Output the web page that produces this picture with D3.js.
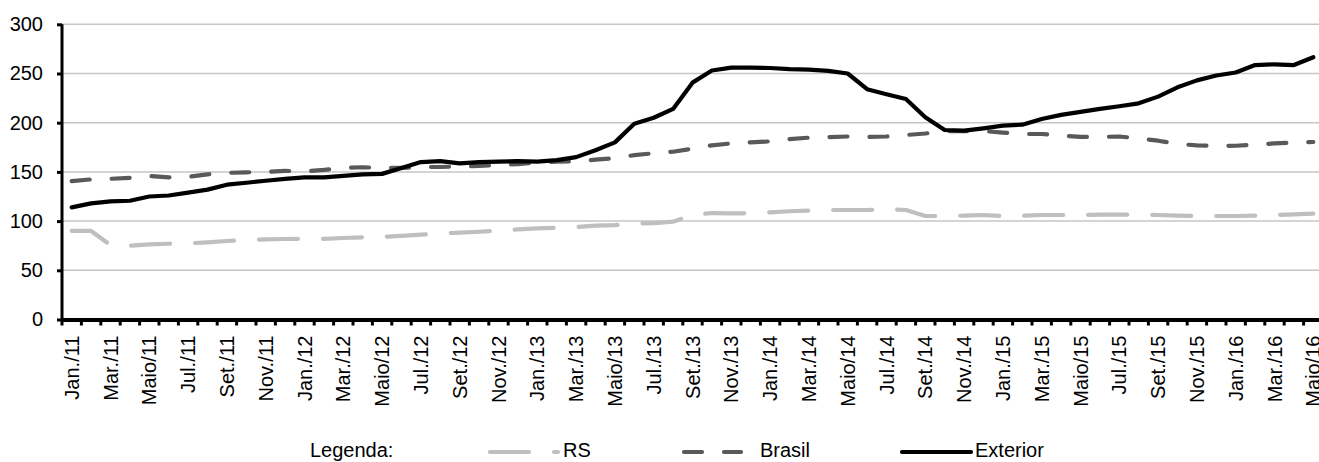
<!DOCTYPE html>
<html><head><meta charset="utf-8">
<script src="https://cdn.jsdelivr.net/npm/d3@7"></script>
<style>
html,body{margin:0;padding:0;background:#fff;}
svg{display:block;font-family:"Liberation Sans",Arial,sans-serif;}
</style></head>
<body><svg id="chart" width="1319" height="462"></svg>
<script>
const categories = [
"Jan./11","Fev./11","Mar./11","Abr./11","Maio/11","Jun./11","Jul./11","Ago./11","Set./11","Out./11","Nov./11","Dez./11",
"Jan./12","Fev./12","Mar./12","Abr./12","Maio/12","Jun./12","Jul./12","Ago./12","Set./12","Out./12","Nov./12","Dez./12",
"Jan./13","Fev./13","Mar./13","Abr./13","Maio/13","Jun./13","Jul./13","Ago./13","Set./13","Out./13","Nov./13","Dez./13",
"Jan./14","Fev./14","Mar./14","Abr./14","Maio/14","Jun./14","Jul./14","Ago./14","Set./14","Out./14","Nov./14","Dez./14",
"Jan./15","Fev./15","Mar./15","Abr./15","Maio/15","Jun./15","Jul./15","Ago./15","Set./15","Out./15","Nov./15","Dez./15",
"Jan./16","Fev./16","Mar./16","Abr./16","Maio/16"];

const rs = [90,90,75.7,75,76.4,77,77.4,78.4,79.8,80.8,81.5,81.8,
82,82,82.8,83.5,84,84.9,86.2,87.6,88.2,89.2,90.3,91.6,
92.6,93.3,94,95.4,96,97.4,98,99.4,106.2,108.2,107.9,107.9,
108.9,110,110.6,111.3,111.3,111.3,112,111.3,105.2,105.2,105.5,106.2,
105.2,105.5,106.2,106.2,106.2,106.5,106.5,106.5,106.2,105.5,105.2,105.2,
105.2,105.5,106.2,106.9,107.6];

const brasil = [140.7,142.4,143,144,145.8,144.5,145,147.5,149,149.6,150,151,
150.6,152,154,154.7,154,154,155,155,155.5,156,157,158,
159.4,160.4,160.7,162.4,164,167,169,170.5,173.6,177,179,180,
181,183.4,184.8,185.4,186,185.5,186,187.5,189,191.5,191.5,191.5,
190,188.5,188.5,187,185.5,185.5,186,184,181.7,178.4,177,176.3,
176.6,177.6,179,179.7,180.4];

const exterior = [114,118,120,120.7,125,126,129,132,137,139,141,143,
144.5,144.5,146,147.5,148,154,160,161,158.7,160,160.5,161,
160.5,162,165,172,180,199,205,214,240.7,253,256,256,
255.6,254.5,254,252.6,250,234,229,224,205.5,192.6,192,194.3,
197,198,203.7,208,211,214,216.7,219.7,226.5,236,243,248,
251,258.6,259.3,258.6,266.5];

const yTicks = [0,50,100,150,200,250,300];
const seriesNames = ["RS","Brasil","Exterior"];
const seriesColors = ["#bfbfbf","#595959","#000000"];
const legendTitle = "Legenda:";

(function(){
const svg = d3.select("#chart");
const pL = 62, pT = 24.3, pB = 319.5, step = 19.4;
const x = d3.scaleBand().domain(categories).range([pL, pL + step*categories.length]).paddingInner(0).paddingOuter(0);
const y = d3.scaleLinear().domain([0,300]).range([pB, pT]);
const cx = c => x(c) + x.bandwidth()/2;

// gridlines
svg.append("g").selectAll("line").data(yTicks.filter(d=>d>0)).join("line")
  .attr("x1", pL).attr("x2", 1319).attr("y1", d=>y(d)).attr("y2", d=>y(d))
  .attr("stroke", "#c6c6c6").attr("stroke-width", 1.5);

// y axis
const yAxis = svg.append("g").attr("transform", `translate(${pL},0)`)
  .call(d3.axisLeft(y).tickValues(yTicks).tickSize(5).tickPadding(14));
yAxis.select(".domain").attr("stroke","#000").attr("stroke-width",3).attr("d", `M0,${pT}V${pB}`);
yAxis.selectAll(".tick line").attr("stroke","#000").attr("stroke-width",3);
yAxis.selectAll(".tick text").attr("font-size", 20).attr("fill","#000")
  .attr("font-family","\"Liberation Sans\",Arial,sans-serif");

// series lines
const line = d3.line().x((d,i)=>cx(categories[i])).y(d=>y(d)).curve(d3.curveLinear);
const dashes = ["39,25","18,22",null];
[rs, brasil, exterior].forEach((vals, k) => {
  const p = svg.append("path").datum(vals).attr("d", line)
    .attr("fill","none").attr("stroke", seriesColors[k]).attr("stroke-width", 4.2)
    .attr("stroke-linecap","round").attr("stroke-linejoin","round");
  if (dashes[k]) p.attr("stroke-dasharray", dashes[k]);
});

// x axis
const xg = svg.append("g");
xg.append("line").attr("x1", pL).attr("x2", 1319).attr("y1", pB+0.5).attr("y2", pB+0.5)
  .attr("stroke","#000").attr("stroke-width",4);
const bounds = categories.map(c => x(c)).concat([x(categories[categories.length-1]) + x.bandwidth()]);
xg.selectAll("line.tk").data(bounds).join("line").attr("class","tk")
  .attr("x1", d=>d).attr("x2", d=>d).attr("y1", pB).attr("y2", pB+6)
  .attr("stroke","#000").attr("stroke-width",3);
xg.selectAll("text").data(categories.filter((c,i)=>i%2===0)).join("text")
  .attr("transform", c => `translate(${cx(c)},${pB+16}) rotate(-90)`)
  .attr("text-anchor","end").attr("dy","0.35em")
  .attr("font-size", 20).attr("fill","#000").text(c=>c);

// legend
const ly = 452, tb = 457;
const lg = svg.append("g").attr("font-size", 20).attr("fill","#000");
lg.append("text").attr("x", 310).attr("y", tb).text(legendTitle);
const legendItems = [
  {x1:490, x2:558, tx:563},
  {x1:684, x2:741, tx:760},
  {x1:902, x2:971, tx:975}
];
legendItems.forEach((it,k) => {
  const l = lg.append("line").attr("x1", it.x1).attr("x2", it.x2).attr("y1", ly).attr("y2", ly)
    .attr("stroke", seriesColors[k]).attr("stroke-width", 4.2).attr("stroke-linecap","round");
  if (dashes[k]) l.attr("stroke-dasharray", dashes[k]);
  lg.append("text").attr("x", it.tx).attr("y", tb).text(seriesNames[k]);
});
})();
</script>
</body></html>
